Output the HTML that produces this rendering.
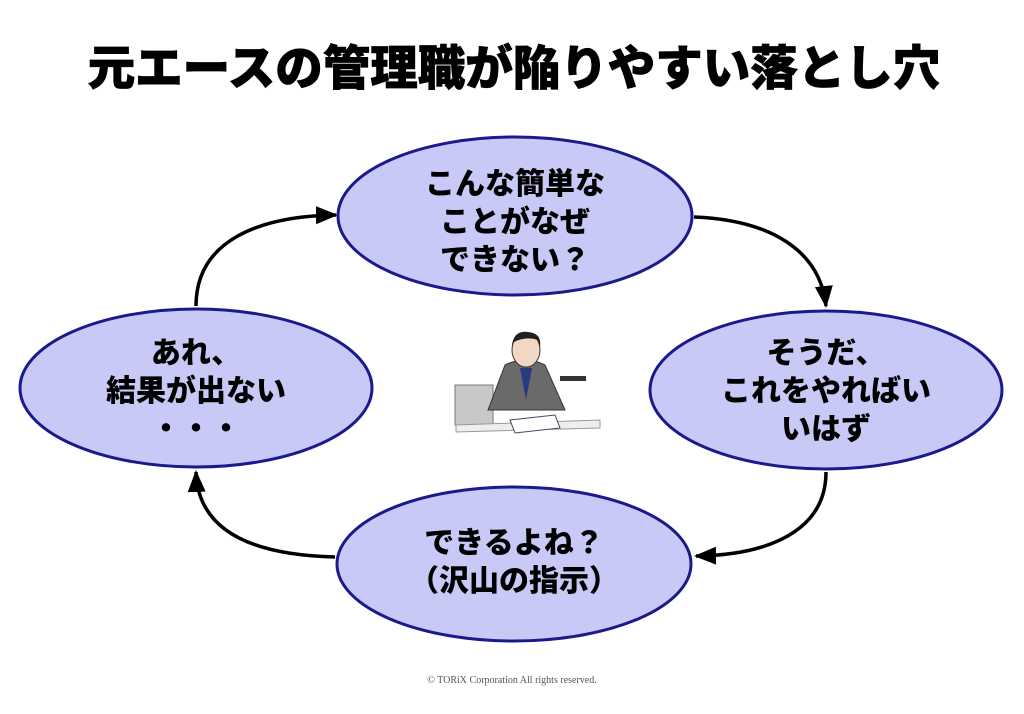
<!DOCTYPE html>
<html><head><meta charset="utf-8"><style>
body{margin:0;background:#fff;width:1024px;height:709px;overflow:hidden}
text{font-family:"Liberation Sans","Noto Sans CJK JP",sans-serif;font-weight:900}
</style></head><body>
<svg width="1024" height="709" viewBox="0 0 1024 709">
<defs>
<marker id="b" markerWidth="22" markerHeight="22" refX="20" refY="11" orient="auto" markerUnits="userSpaceOnUse" viewBox="0 0 22 22"><path d="M0,2L22,11L0,20z" fill="#000"/></marker></defs>
<text x="514" y="85" font-size="47.5" text-anchor="middle" fill="#000" stroke="#000" stroke-width="0.8">元エースの管理職が陥りやすい落とし穴</text>
<g fill="none" stroke="#000" stroke-width="3.5">
<path d="M196,306 C196,240 260,216 336,215" marker-end="url(#b)"/>
<path d="M694,217 C770,220 820,250 826,306" marker-end="url(#b)"/>
<path d="M826,472 C826,530 770,555 696,556" marker-end="url(#b)"/>
<path d="M335,557 C250,555 198,530 196,472" marker-end="url(#b)"/>
</g>
<g fill="#c9c9f7" stroke="#1a1a8c" stroke-width="3">
<ellipse cx="515" cy="216" rx="177" ry="79"/>
<ellipse cx="826" cy="390" rx="176" ry="79"/>
<ellipse cx="514" cy="564" rx="177" ry="77"/>
<ellipse cx="196" cy="388" rx="176" ry="79"/>
</g>
<g font-size="30" text-anchor="middle" fill="#000">
<text x="515" y="194">こんな簡単な</text><text x="515" y="232">ことがなぜ</text><text x="515" y="270">できない？</text>
<text x="826" y="363">そうだ、</text><text x="826" y="401">これをやればい</text><text x="826" y="439">いはず</text>
<text x="514" y="553">できるよね？</text><text x="514" y="591">（沢山の指示）</text>
<text x="196" y="363">あれ、</text><text x="196" y="401">結果が出ない</text><text x="196" y="439">・・・</text>
</g>
<g>
<rect x="455" y="385" width="38" height="40" fill="#c8c8c8" stroke="#777"/>
<path d="M488,410 L505,365 Q525,355 545,365 L565,410 Z" fill="#6a6a6a" stroke="#333"/>
<path d="M520,368 L526,400 L532,368 Z" fill="#2a3a80"/>
<ellipse cx="526" cy="350" rx="14" ry="17" fill="#f2d8c4" stroke="#333"/>
<path d="M512,345 Q514,330 528,332 Q542,333 540,347 L538,340 Q526,336 514,342 Z" fill="#222"/>
<rect x="560" y="376" width="26" height="5" fill="#333"/>
<path d="M456,425 L600,420 L600,428 L456,432 Z" fill="#eee" stroke="#999"/>
<path d="M510,420 L555,415 L560,428 L515,433 Z" fill="#fff" stroke="#446"/>
</g>
<text x="512" y="683" font-size="10" text-anchor="middle" fill="#555" style="font-family:'Liberation Serif',serif;font-weight:400">© TORiX Corporation All rights reserved.</text>
</svg>
</body></html>
